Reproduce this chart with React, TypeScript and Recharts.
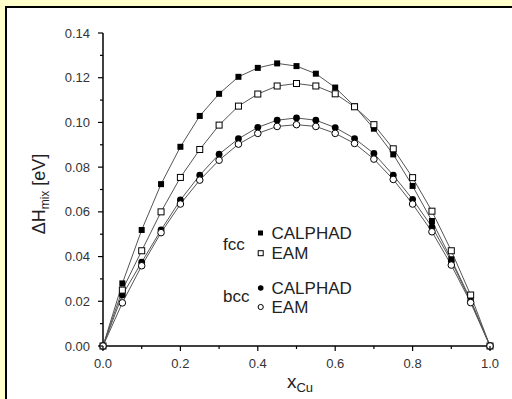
import React from 'react';
import { LineChart, Line, XAxis, YAxis, Legend } from 'recharts';

const xCu = [0, 0.05, 0.1, 0.15, 0.2, 0.25, 0.3, 0.35, 0.4, 0.45, 0.5, 0.55, 0.6, 0.65, 0.7, 0.75, 0.8, 0.85, 0.9, 0.95, 1.0];
const fccCalphad = [0, 0.028, 0.0519, 0.0724, 0.0891, 0.1029, 0.1128, 0.1204, 0.1244, 0.1264, 0.1252, 0.1218, 0.1156, 0.1072, 0.0972, 0.0857, 0.0716, 0.0559, 0.0388, 0.0206, 0];
const fccEam = [0, 0.025, 0.0426, 0.06, 0.0754, 0.0879, 0.0988, 0.1073, 0.1127, 0.1163, 0.1174, 0.1163, 0.1128, 0.107, 0.099, 0.0882, 0.0753, 0.0603, 0.0426, 0.0228, 0];
const bccCalphad = [0, 0.0228, 0.0375, 0.0519, 0.0653, 0.0764, 0.0858, 0.0927, 0.0978, 0.101, 0.102, 0.101, 0.0977, 0.0928, 0.0861, 0.0764, 0.0656, 0.0533, 0.038, 0.02, 0];
const bccEam = [0, 0.0193, 0.0359, 0.0507, 0.0635, 0.0742, 0.0831, 0.0903, 0.0951, 0.0982, 0.099, 0.0982, 0.0951, 0.0906, 0.0836, 0.0745, 0.0635, 0.0511, 0.0362, 0.0194, 0];

const xTicks = [0, 0.1, 0.2, 0.3, 0.4, 0.5, 0.6, 0.7, 0.8, 0.9, 1.0];
const yTicks = [0, 0.01, 0.02, 0.03, 0.04, 0.05, 0.06, 0.07, 0.08, 0.09, 0.1, 0.11, 0.12, 0.13, 0.14];

const data = xCu.map((x, i) => ({
  x,
  fccCalphad: fccCalphad[i],
  fccEam: fccEam[i],
  bccCalphad: bccCalphad[i],
  bccEam: bccEam[i],
}));

const FONT = '"Liberation Sans", Arial, Helvetica, sans-serif';

const XTick = (props: any) => {
  const { x, y, payload } = props;
  const major = Math.round(payload.value * 10) % 2 === 0;
  return (
    <g>
      <line x1={x} x2={x} y1={y} y2={y + (major ? 5 : 3)} stroke="#000" strokeWidth={1.2} />
      {major && (
        <text x={x} y={y + 22} textAnchor="middle" fontSize={13} fill="#333" fontFamily={FONT}>
          {payload.value.toFixed(1)}
        </text>
      )}
    </g>
  );
};

const YTick = (props: any) => {
  const { x, y, payload } = props;
  const major = Math.round(payload.value * 100) % 2 === 0;
  return (
    <g>
      <line x1={x} x2={x - (major ? 5 : 3)} y1={y} y2={y} stroke="#000" strokeWidth={1.2} />
      {major && (
        <text x={x - 13} y={y + 4.5} textAnchor="end" fontSize={13} fill="#333" fontFamily={FONT}>
          {payload.value.toFixed(2)}
        </text>
      )}
    </g>
  );
};

const FilledSquare = (p: any) => <rect key={p.key} x={p.cx - 3} y={p.cy - 3} width={6} height={6} fill="#000" />;
const OpenSquare = (p: any) => (
  <rect key={p.key} x={p.cx - 3} y={p.cy - 3} width={6} height={6} fill="#fff" stroke="#000" strokeWidth={1} />
);
const FilledCircle = (p: any) => <circle key={p.key} cx={p.cx} cy={p.cy} r={3.4} fill="#000" />;
const OpenCircle = (p: any) => <circle key={p.key} cx={p.cx} cy={p.cy} r={3.3} fill="#fff" stroke="#000" strokeWidth={1} />;

const LegendContent = () => (
  <svg width={512} height={399} style={{ position: 'absolute', left: 0, top: 0 }}>
    <g fontFamily={FONT} fontSize={17} fill="#222">
      <text x={223} y={250}>fcc</text>
      <rect x={258} y={230.5} width={5} height={5} fill="#000" />
      <text x={271.5} y={239.3}>CALPHAD</text>
      <rect x={258.2} y={250.7} width={5} height={5} fill="#fff" stroke="#000" strokeWidth={1} />
      <text x={271.5} y={259.3}>EAM</text>
      <text x={223} y={301.7}>bcc</text>
      <circle cx={260.7} cy={288} r={2.8} fill="#000" />
      <text x={271.5} y={294}>CALPHAD</text>
      <circle cx={260.7} cy={307} r={2.6} fill="#fff" stroke="#000" strokeWidth={1} />
      <text x={271.5} y={313.3}>EAM</text>
    </g>
  </svg>
);

export default function App() {
  return (
    <div style={{ position: 'absolute', left: 0, top: 0, width: 512, height: 399, overflow: 'hidden', background: '#FFFFCC' }}>
      <div
        style={{
          position: 'absolute',
          left: 5,
          top: 6,
          width: 600,
          height: 500,
          borderLeft: '2px solid #000',
          borderTop: '2px solid #000',
          background: '#fff',
        }}
      />
      <div style={{ position: 'absolute', left: 0, top: 0 }}>
        <LineChart width={512} height={399} data={data} margin={{ top: 33, right: 22, left: 0, bottom: 0 }}>
          <XAxis
            dataKey="x"
            type="number"
            domain={[0, 1]}
            ticks={xTicks}
            interval={0}
            height={53}
            tickSize={0}
            tickMargin={0}
            tick={<XTick />}
            axisLine={{ stroke: '#000', strokeWidth: 1.5 }}
            label={{
              content: () => (
                <text x={300} y={388} textAnchor="middle" fontFamily={FONT} fontSize={19} fill="#222">
                  x
                  <tspan dy={4} fontSize={13}>Cu</tspan>
                </text>
              ),
            }}
          />
          <YAxis
            type="number"
            domain={[0, 0.14]}
            ticks={yTicks}
            interval={0}
            width={103}
            tickSize={0}
            tickMargin={0}
            tick={<YTick />}
            axisLine={{ stroke: '#000', strokeWidth: 1.5 }}
            label={{
              content: () => (
                <text transform="translate(45,194) rotate(-90)" textAnchor="middle" fontFamily={FONT} fontSize={18} fill="#222">
                  ΔH
                  <tspan dy={4} fontSize={12}>mix</tspan>
                  <tspan dy={-4}> [eV]</tspan>
                </text>
              ),
            }}
          />
          <Legend verticalAlign="middle" align="center" content={<LegendContent />} wrapperStyle={{ position: 'absolute', left: 0, top: 0, width: 512, height: 399, pointerEvents: 'none' }} />
          <Line dataKey="fccCalphad" stroke="#555" strokeWidth={1} dot={FilledSquare} isAnimationActive={false} />
          <Line dataKey="bccCalphad" stroke="#555" strokeWidth={1} dot={FilledCircle} isAnimationActive={false} />
          <Line dataKey="fccEam" stroke="#555" strokeWidth={1} dot={OpenSquare} isAnimationActive={false} />
          <Line dataKey="bccEam" stroke="#555" strokeWidth={1} dot={OpenCircle} isAnimationActive={false} />
        </LineChart>
      </div>
    </div>
  );
}
